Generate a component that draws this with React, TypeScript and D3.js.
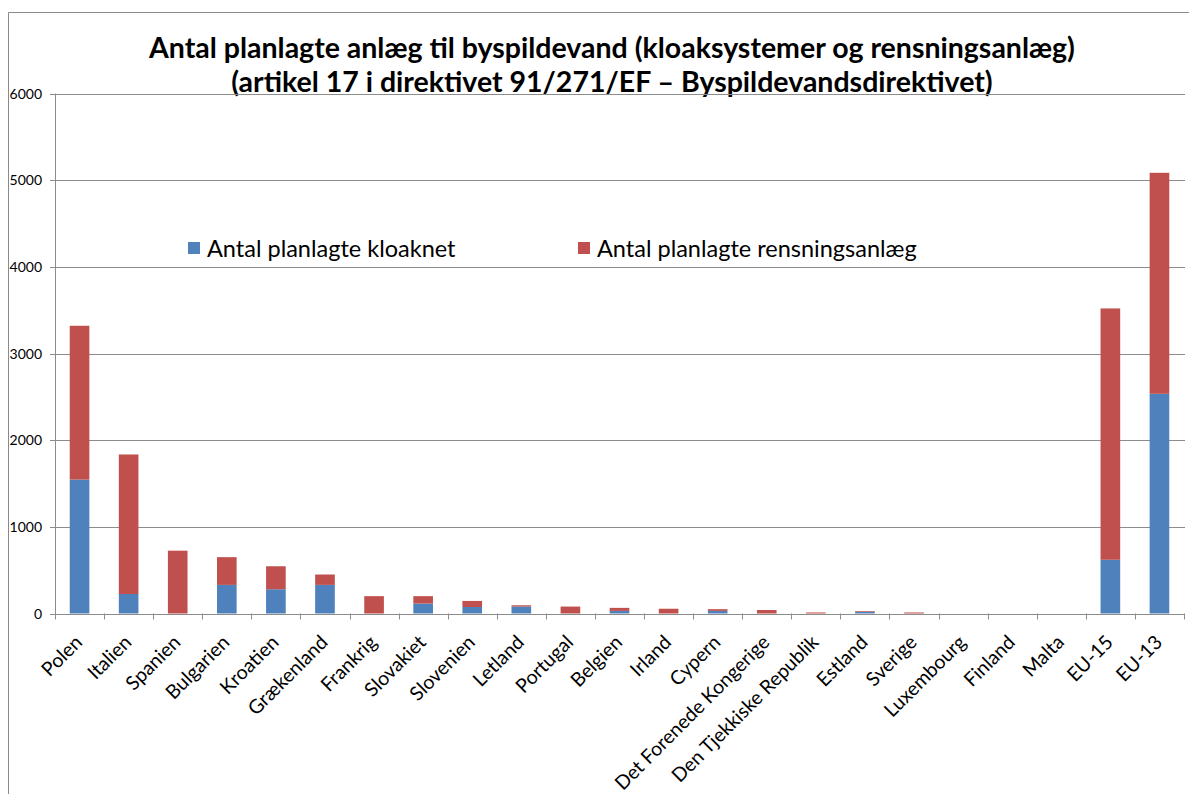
import React from "react";
import * as d3 from "d3";

const categories = [
  "Polen", "Italien", "Spanien", "Bulgarien", "Kroatien", "Grækenland", "Frankrig",
  "Slovakiet", "Slovenien", "Letland", "Portugal", "Belgien", "Irland", "Cypern",
  "Det Forenede Kongerige", "Den Tjekkiske Republik", "Estland", "Sverige",
  "Luxembourg", "Finland", "Malta", "EU-15", "EU-13",
];
const kloaknet = [1545, 225, 0, 330, 280, 330, 0, 115, 75, 80, 0, 30, 0, 30, 0, 0, 20, 0, 0, 0, 0, 620, 2535];
const rensningsanlaeg = [1775, 1610, 725, 320, 265, 120, 200, 85, 70, 15, 80, 35, 55, 20, 40, 12, 8, 12, 0, 0, 0, 2900, 2550];
const yTicks = [0, 1000, 2000, 3000, 4000, 5000, 6000];
const seriesNames = ["Antal planlagte kloaknet", "Antal planlagte rensningsanlæg"];
const seriesColors = ["#4F81BD", "#C0504D"];
const titleLines = [
  "Antal planlagte anlæg til byspildevand (kloaksystemer og rensningsanlæg)",
  "(artikel 17 i direktivet 91/271/EF – Byspildevandsdirektivet)",
];

export default function App() {
  const W = 1189, H = 794;
  const left = 55, right = 1184, top = 93.5, bottom = 613.5;
  const x = d3.scaleBand<string>().domain(categories).range([left, right]).paddingInner(0.6).paddingOuter(0.3);
  const y = d3.scaleLinear().domain([0, 6000]).range([bottom, top]);
  const step = x.step();
  const rows = categories.map((c, i) => ({ cat: c, k: kloaknet[i], r: rensningsanlaeg[i] }));
  const stacked = d3.stack<any>().keys(["k", "r"])(rows);
  const font = "Lato, 'Open Sans', sans-serif";
  const grid = "#8c8c8c";

  return (
    <svg width={W} height={H} style={{ position: "absolute", left: 0, top: 0, background: "#fff" }}>
      {/* chart border */}
      <line x1={8.5} y1={12.5} x2={W} y2={12.5} stroke="#8a8a8a" />
      <line x1={8.5} y1={12.5} x2={8.5} y2={H} stroke="#8a8a8a" />

      {/* title */}
      {titleLines.map((t, i) => (
        <text key={i} x={612} y={58 + i * 34} textAnchor="middle" fontFamily={font} fontWeight="bold" fontSize={28.5} fill="#000">
          {t}
        </text>
      ))}

      {/* gridlines and y labels */}
      {yTicks.map((v) => (
        <g key={v}>
          <line x1={left - 5} x2={right + 1} y1={Math.round(y(v)) + 0.5} y2={Math.round(y(v)) + 0.5} stroke={grid} />
          <text x={42} y={y(v) + 5} textAnchor="end" fontFamily={font} fontSize={14} fill="#000">{v}</text>
        </g>
      ))}
      <line x1={left + 0.5} x2={left + 0.5} y1={top} y2={bottom + 1} stroke={grid} />

      {/* x ticks */}
      {d3.range(categories.length + 1).map((i) => (
        <line key={i} x1={Math.round(left + i * step) + 0.5} x2={Math.round(left + i * step) + 0.5} y1={bottom} y2={bottom + 6} stroke={grid} />
      ))}

      {/* bars */}
      {stacked.map((s, si) => (
        <g key={si} fill={seriesColors[si]}>
          {s.map((d, i) => (
            d[1] - d[0] > 0 ? (
              <rect key={i} x={x(categories[i])} width={x.bandwidth()} y={y(d[1])} height={y(d[0]) - y(d[1])} />
            ) : null
          ))}
        </g>
      ))}

      {/* x labels */}
      {categories.map((c) => {
        const cx = (x(c) as number) + x.bandwidth() / 2 + 4;
        const cy = bottom + 30;
        return (
          <text key={c} transform={`translate(${cx},${cy}) rotate(-45)`} textAnchor="end" fontFamily={font} fontSize={19.5} fill="#000">
            {c}
          </text>
        );
      })}

      {/* legend */}
      {seriesNames.map((n, i) => {
        const lx = i === 0 ? 188 : 578;
        return (
          <g key={n}>
            <rect x={lx} y={242} width={12} height={12} fill={seriesColors[i]} />
            <text x={lx + 19} y={257} fontFamily={font} fontSize={23.5} fill="#000">{n}</text>
          </g>
        );
      })}
    </svg>
  );
}
